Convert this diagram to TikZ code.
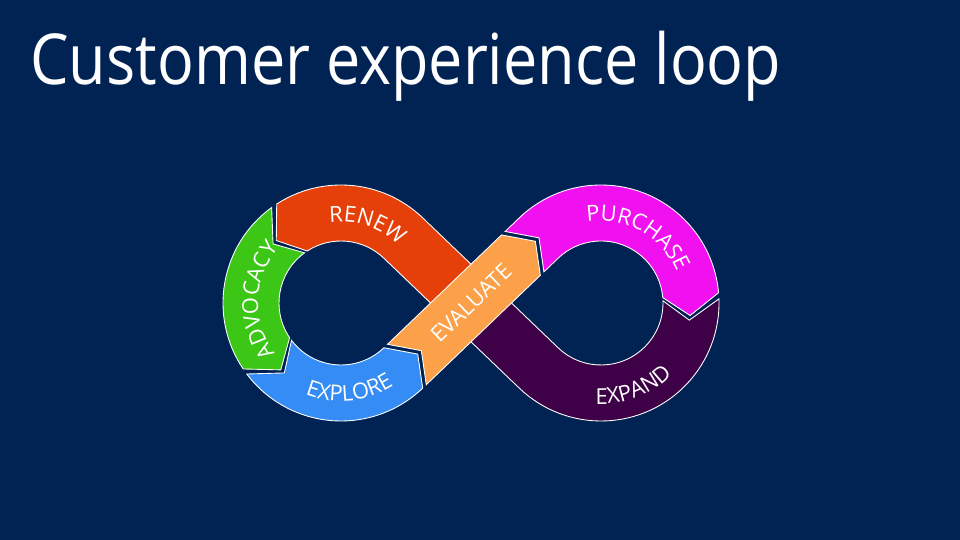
\documentclass[tikz,border=0pt]{standalone}
\usepackage{fontspec}
\setmainfont{Open Sans}
\newfontfamily\titlefont{Open Sans}[FakeStretch=0.87]
\definecolor{navybg}{RGB}{1,35,84}
\definecolor{renewc}{RGB}{230,64,10}
\definecolor{advocc}{RGB}{60,198,22}
\definecolor{explorec}{RGB}{52,140,244}
\definecolor{evalc}{RGB}{252,160,74}
\definecolor{purchc}{RGB}{240,16,240}
\definecolor{expandc}{RGB}{62,0,70}
\usetikzlibrary{calc, decorations.text}
\newcommand{\segfont}{\fontsize{12.5}{13}\selectfont}

\begin{document}
\begin{tikzpicture}[
    x=0.02cm, y=0.02cm,
    loopseg/.style={draw=white, line width=0.5pt, line join=miter},
    arclabel/.style={decorate, decoration={text along path, text align=center, text color=white}},
    title/.style={text=white, font=\titlefont\fontsize{40}{44}\selectfont, inner sep=0pt, anchor=base west}
]
    % Background
    \fill[navybg] (0,0) rectangle (960,540);
    \useasboundingbox (0,0) rectangle (960,540);

    % Title
    \node[title] (head) at (30,455) {Customer experience loop};

    % Loop centres and crossing
    \coordinate (c1) at (341,237);
    \coordinate (c2) at (601,237);
    \coordinate (m) at (471,237);
    \coordinate (tb1) at ($(c1)+(-46.2:90)$);
    \coordinate (e0) at ($(tb1)+(43.8:5)$);
    \coordinate (e1) at ($(tb1)+(43.8:163)$);
    \coordinate (p0) at ($(tb1)+(43.8:168)$);

    % Renew (runs under Evaluate)
    \draw[loopseg, fill=renewc] ($(m)+(46.2:28)$) -- ($(c1)+(46.2:118)$)
        arc[start angle=46.2, end angle=123, radius=118] -- ($(c1)+(136:90)$)
        -- ($(c1)+(123:62)$) arc[start angle=123, end angle=46.2, radius=62]
        -- ($(m)+(226.2:28)$) -- cycle;

    % Expand (runs under Evaluate)
    \draw[loopseg, fill=expandc] ($(c2)+(2:118)$)
        arc[start angle=2, end angle=-133.8, radius=118] -- ($(m)+(226.2:28)$)
        -- ($(m)+(46.2:28)$) -- ($(c2)+(-133.8:62)$)
        arc[start angle=-133.8, end angle=2, radius=62] -- ($(c2)+(-11:90)$) -- cycle;

    % Advocacy
    \draw[loopseg, fill=advocc] ($(c1)+(126:118)$)
        arc[start angle=126, end angle=214, radius=118] -- ($(c1)+(228:90)$)
        -- ($(c1)+(214:62)$) arc[start angle=214, end angle=126, radius=62]
        -- ($(c1)+(139:90)$) -- cycle;

    % Explore
    \draw[loopseg, fill=explorec] ($(c1)+(217:118)$)
        arc[start angle=217, end angle=313.8, radius=118] -- ($(tb1)+(43.8:20)$)
        -- ($(c1)+(313.8:62)$) arc[start angle=313.8, end angle=217, radius=62]
        -- ($(c1)+(231:90)$) -- cycle;

    % Purchase
    \draw[loopseg, fill=purchc] ($(p0)+(133.8:28)$) -- ($(c2)+(133.8:118)$)
        arc[start angle=133.8, end angle=5, radius=118] -- ($(c2)+(-8:90)$)
        -- ($(c2)+(5:62)$) arc[start angle=5, end angle=133.8, radius=62]
        -- ($(p0)+(-46.2:28)$) -- ($(p0)+(43.8:20)$) -- cycle;

    % Evaluate (on top)
    \draw[loopseg, fill=evalc] ($(e0)+(-46.2:28)$) -- ($(e1)+(-46.2:28)$)
        -- ($(e1)+(43.8:20)$) -- ($(e1)+(133.8:28)$) -- ($(e0)+(133.8:28)$)
        -- ($(e0)+(43.8:20)$) -- cycle;

    % Labels
    \path[arclabel, decoration={text={|\segfont|RENEW}}]
        ($(c1)+(120:81)$) arc[start angle=120, end angle=23, radius=81];
    \path[arclabel, decoration={text={|\segfont|ADVOCACY}}]
        ($(c1)+(250:83)$) arc[start angle=250, end angle=106, radius=83];
    \path[arclabel, decoration={text={|\segfont|EXPLORE}}]
        ($(c1)+(225:98)$) arc[start angle=225, end angle=326, radius=98];
    \path[arclabel, decoration={text={|\segfont|PURCHASE}}]
        ($(c2)+(118:82)$) arc[start angle=118, end angle=4, radius=82];
    \path[arclabel, decoration={text={|\segfont|EXPAND}}]
        ($(c2)+(241:101)$) arc[start angle=241, end angle=341, radius=101];
    \node[text=white, font=\segfont, rotate=43.8] (evallab) at (m) {EVALUATE};
\end{tikzpicture}
\end{document}
